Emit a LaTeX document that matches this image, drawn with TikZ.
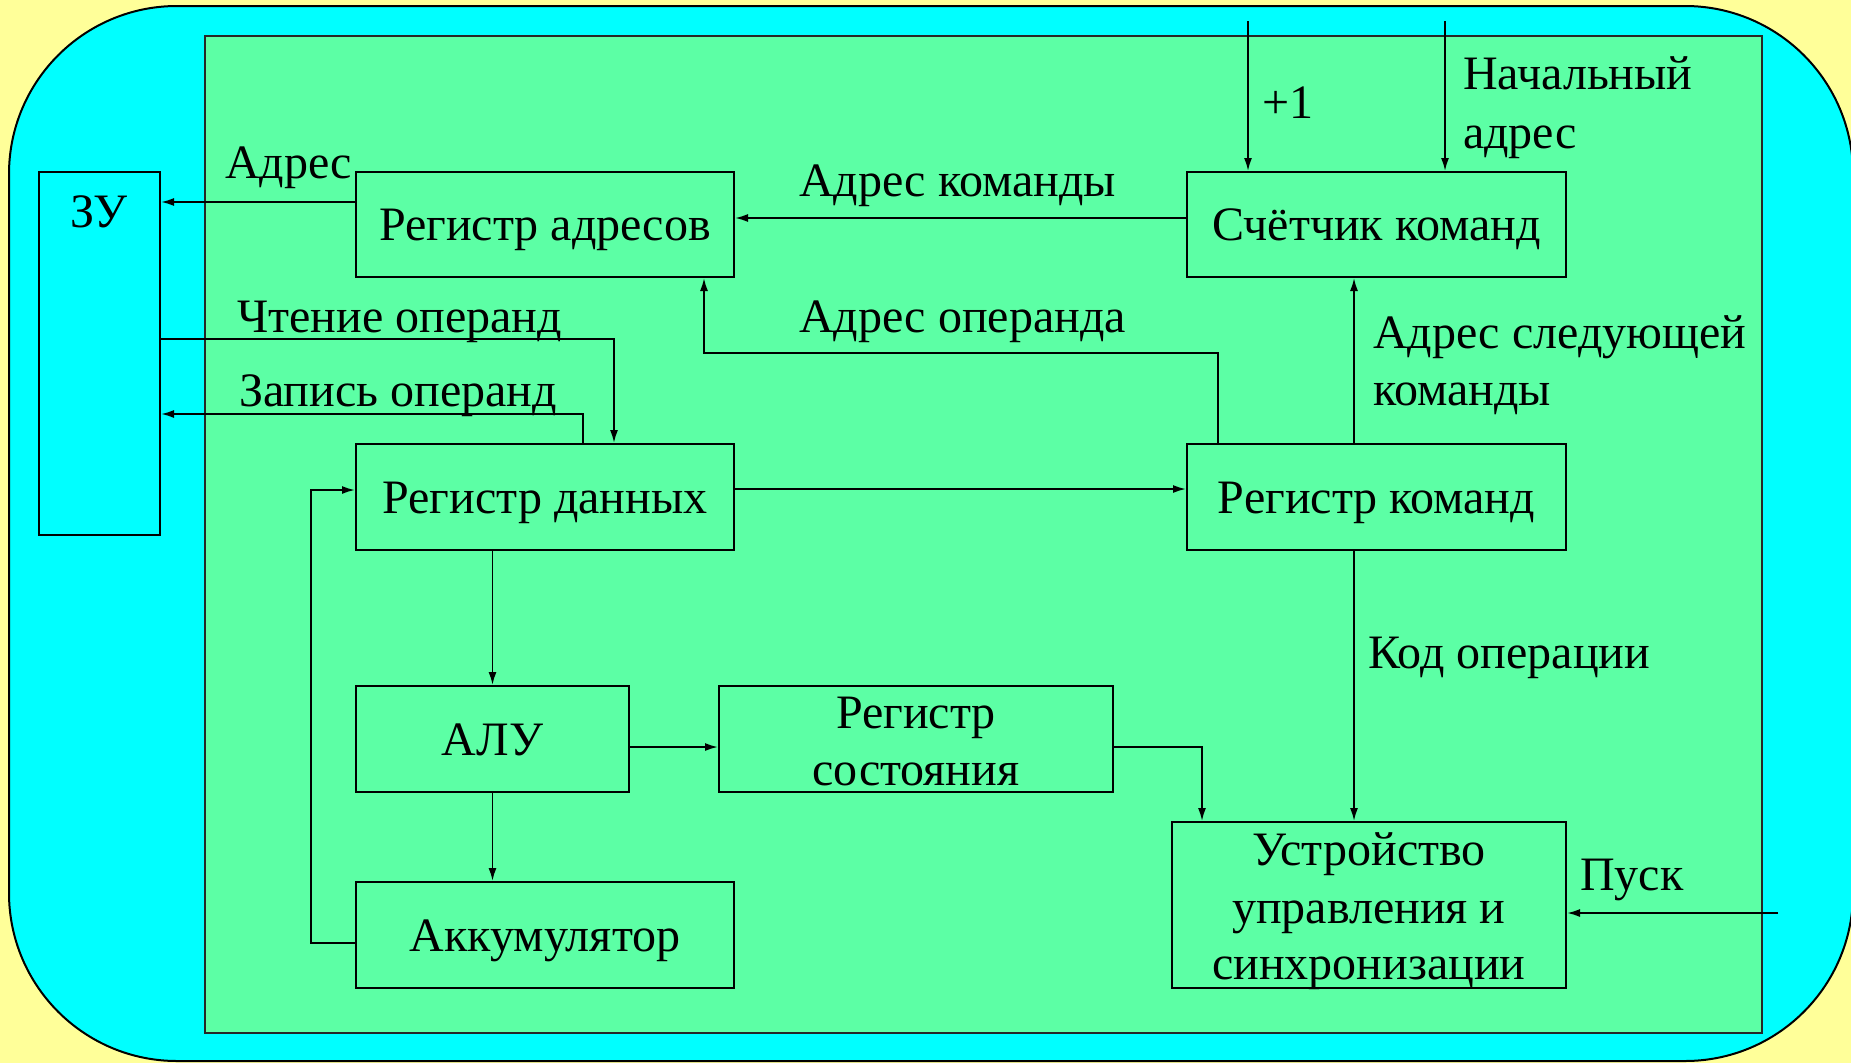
\documentclass[tikz,border=0pt]{standalone}
\usepackage{fontspec}
\setmainfont{Liberation Serif}
\usetikzlibrary{arrows.meta}
\definecolor{bgyellow}{RGB}{255,255,153}
\definecolor{cyanfill}{RGB}{0,255,255}
\definecolor{greenfill}{RGB}{92,255,165}
\begin{document}
\begin{tikzpicture}[x=1pt,y=-1pt,
  bigfont/.style={font=\fontsize{48}{57}\selectfont},
  box/.style={draw, line width=2pt, fill=greenfill, inner sep=0pt, bigfont, text height=32pt, text depth=0pt},
  lbl/.style={anchor=base west, inner sep=0pt, bigfont},
  btxt/.style={anchor=base, inner sep=0pt, bigfont},
  conn/.style={line width=1.8pt, -{Latex[length=13pt,width=8pt]}},
  wire/.style={line width=1.8pt}
]
\useasboundingbox (0,0) rectangle (1851,1063);
\fill[bgyellow] (0,0) rectangle (1851,1063);
\draw[line width=2pt, fill=cyanfill, rounded corners=168pt] (9,6) rectangle (1853,1061);
\draw[line width=2pt, draw=black!85, fill=greenfill] (205,36) rectangle (1762,1033);

% boxes
\node[box, fill=cyanfill, minimum width=121pt, minimum height=363pt] (zu) at (99.5,353.5) {};
\node[btxt] (zutxt) at (99,227) {ЗУ};
\node[box, minimum width=378pt, minimum height=105pt] (regaddr) at (545,224.5) {Регистр адресов};
\node[box, minimum width=379pt, minimum height=105pt] (schet) at (1376.5,224.5) {Счётчик команд};
\node[box, minimum width=378pt, minimum height=106pt] (datareg) at (545,497) {Регистр данных};
\node[box, minimum width=379pt, minimum height=106pt] (regcmd) at (1376.5,497) {Регистр команд};
\node[box, minimum width=273pt, minimum height=106pt] (alu) at (492.5,739) {АЛУ};
\node[box, minimum width=394pt, minimum height=106pt] (regstate) at (916,739) {};
\node[btxt] (rs1) at (916,728) {Регистр};
\node[btxt] (rs2) at (916,785) {состояния};
\node[box, minimum width=378pt, minimum height=106pt] (acc) at (545,935) {Аккумулятор};
\node[box, minimum width=394pt, minimum height=166pt] (uus) at (1369,905) {};
\node[btxt] (uus1) at (1369,865) {Устройство};
\node[btxt] (uus2) at (1369,923) {управления и};
\node[btxt] (uus3) at (1369,979) {синхронизации};

% labels
\node[lbl] (l1) at (225,178) {Адрес};
\node[lbl] (l2) at (799,196) {Адрес команды};
\node[lbl] (l3) at (799,332) {Адрес операнда};
\node[lbl] (l4) at (237,332) {Чтение операнд};
\node[lbl] (l5) at (239,406) {Запись операнд};
\node[lbl] (l6) at (1262,118) {+1};
\node[lbl] (l7) at (1463,89) {Начальный};
\node[lbl] (l8) at (1463,148) {адрес};
\node[lbl] (l9) at (1373,348) {Адрес следующей};
\node[lbl] (l10) at (1373,405) {команды};
\node[lbl] (l11) at (1368,668) {Код операции};
\node[lbl] (l12) at (1580,890) {Пуск};

% connectors
\draw[conn] (regaddr.west |- 0,202) -- (zu.east |- 0,202);
\draw[conn] (zu.east |- 0,339) -| (datareg.north -| 614,0);
\draw[conn] (datareg.north -| 583,0) |- (zu.east |- 0,414);
\draw[conn] (schet.west |- 0,218) -- (regaddr.east |- 0,218);
\coordinate (opbend) at (704,353);
\draw[conn] (regcmd.north -| 1218,0) |- (opbend) -- (regaddr.south -| opbend);
\draw[conn] (regcmd.north -| 1354,0) -- (schet.south -| 1354,0);
\draw[conn] (datareg.east |- 0,489) -- (regcmd.west |- 0,489);
\draw[conn] (datareg.south -| alu.north) -- (alu.north);
\draw[conn] (alu.south) -- (acc.north -| alu.south);
\coordinate (loopL) at (311,943);
\draw[conn] (acc.west |- loopL) -- (loopL) |- (datareg.west |- 0,490);
\draw[conn] (alu.east |- 0,747) -- (regstate.west |- 0,747);
\draw[conn] (regstate.east |- 0,747) -| (uus.north -| 1202,0);
\draw[conn] (regcmd.south -| 1354,0) -- (uus.north -| 1354,0);
\coordinate (pusk) at (1778,913);
\draw[conn] (pusk) -- (uus.east |- pusk);
\coordinate (in1) at (1248,21);
\draw[conn] (in1) -- (schet.north -| in1);
\coordinate (in2) at (1445,21);
\draw[conn] (in2) -- (schet.north -| in2);
\end{tikzpicture}
\end{document}
